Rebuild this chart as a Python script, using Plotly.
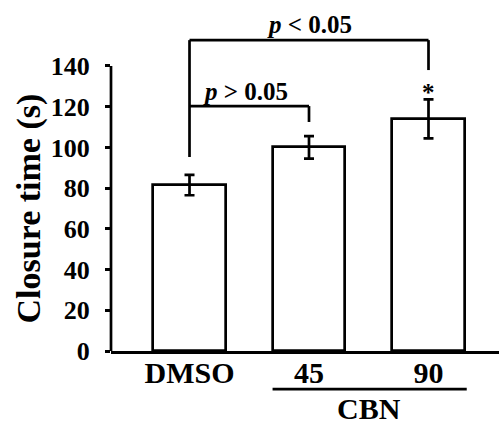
import plotly.graph_objects as go

# ---- data ----
categories = ["DMSO", "45", "90"]
means = [81.5, 100.0, 114.0]
errors = [5.0, 5.5, 9.6]
y_ticks = [0, 20, 40, 60, 80, 100, 120, 140]
group_label = "CBN"
y_title = "Closure time (s)"
p_label_low = "<i>p</i> > 0.05"
p_label_high = "<i>p</i> < 0.05"
sig_mark = "*"

FONT = "Times New Roman, Liberation Serif, serif"
LW = 2.7
BAR_W = 0.61
x_pos = list(range(len(categories)))

fig = go.Figure()
fig.add_trace(go.Bar(
    x=x_pos, y=means, width=BAR_W,
    marker=dict(color="white", line=dict(color="black", width=LW)),
    error_y=dict(type="data", array=errors, visible=True,
                 color="black", thickness=LW, width=5),
    showlegend=False,
))

shapes = []
# y-axis line only up to 140
shapes.append(dict(type="line", xref="paper", yref="y", x0=0, x1=0,
                   y0=0, y1=y_ticks[-1], line=dict(color="black", width=LW)))
# top bracket (DMSO vs 90)
top_y = 152.7
shapes += [
    dict(type="line", xref="x", yref="y", x0=0, x1=2, y0=top_y, y1=top_y,
         line=dict(color="black", width=LW)),
    dict(type="line", xref="x", yref="y", x0=0, x1=0, y0=95.3, y1=top_y,
         line=dict(color="black", width=LW)),
    dict(type="line", xref="x", yref="y", x0=2, x1=2, y0=138.0, y1=top_y,
         line=dict(color="black", width=LW)),
]
# lower bracket (DMSO vs 45)
low_y = 120.3
shapes += [
    dict(type="line", xref="x", yref="y", x0=0, x1=1, y0=low_y, y1=low_y,
         line=dict(color="black", width=LW)),
    dict(type="line", xref="x", yref="y", x0=1, x1=1, y0=112.5, y1=low_y,
         line=dict(color="black", width=LW)),
]
# CBN group line
shapes.append(dict(type="line", xref="x", yref="paper",
                   x0=1 - BAR_W / 2, x1=2 + BAR_W / 2 + 0.015,
                   y0=-0.112, y1=-0.112, line=dict(color="black", width=LW)))

annotations = [
    dict(x=1, y=160.6, xref="x", yref="y", text=p_label_high, showarrow=False,
         font=dict(family=FONT, size=25, color="black", weight="bold")),
    dict(x=0.47, y=127.5, xref="x", yref="y", text=p_label_low, showarrow=False,
         font=dict(family=FONT, size=25, color="black", weight="bold")),
    dict(x=2, y=127, xref="x", yref="y", text=sig_mark, showarrow=False,
         font=dict(family=FONT, size=25, color="black", weight="bold")),
    dict(x=1.5, y=-0.17, xref="x", yref="paper", text=group_label, showarrow=False,
         yanchor="middle",
         font=dict(family=FONT, size=30, color="black", weight="bold")),
    dict(x=0, y=y_ticks[-1] / 2, xref="paper", yref="y", text=y_title,
         showarrow=False, textangle=-90, xanchor="center", yanchor="middle",
         xshift=-82,
         font=dict(family=FONT, size=34, color="black", weight="bold")),
]

fig.update_layout(
    width=499, height=424,
    margin=dict(l=111, r=0, t=10, b=73, autoexpand=False),
    plot_bgcolor="white", paper_bgcolor="white",
    shapes=shapes, annotations=annotations,
    bargap=0,
    xaxis=dict(
        range=[-0.657, 2.59], tickvals=x_pos, ticktext=categories,
        showline=True, linecolor="black", linewidth=LW, ticks="",
        showgrid=False, zeroline=False, automargin=False,
        tickfont=dict(family=FONT, size=30, color="black", weight="bold"),
        ticklabelstandoff=-7,
    ),
    yaxis=dict(
        range=[0, 167.5], tickvals=y_ticks, automargin=False,
        showline=False, ticks="outside", ticklen=5, tickwidth=LW, tickcolor="black",
        showgrid=False, zeroline=False,
        tickfont=dict(family=FONT, size=26, color="black", weight="bold"),
        ticklabelstandoff=10,
    ),
)

fig.write_html("out.html", config={"displayModeBar": False},
               post_script="document.body.style.margin='0';")
